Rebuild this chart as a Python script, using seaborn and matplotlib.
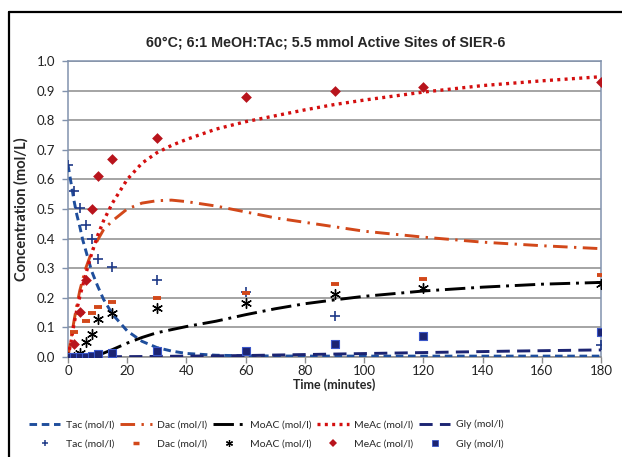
import numpy as np
import pandas as pd
import matplotlib
matplotlib.use("Agg")
import matplotlib.pyplot as plt
import seaborn as sns
from matplotlib.lines import Line2D

# measured concentrations (mol/l)
t_meas = [0, 2, 4, 6, 8, 10, 15, 30, 60, 90, 120, 180]
tac_meas = [0.65, 0.56, 0.505, 0.447, 0.40, 0.33, 0.305, 0.26, 0.22, 0.14, np.nan, 0.04]
dac_meas = [0.0, 0.085, 0.15, 0.123, 0.148, 0.168, 0.185, 0.20, 0.215, 0.246, 0.265, 0.277]
moac_meas = [0.0, 0.0, 0.015, 0.05, 0.078, 0.128, 0.147, 0.165, 0.184, 0.214, 0.232, 0.246]
meac_meas = [0.0, 0.045, 0.152, 0.26, 0.50, 0.61, 0.67, 0.74, 0.88, 0.90, 0.912, 0.93]
gly_meas = [0.0, 0.0, 0.0, 0.0, 0.002, 0.011, 0.014, 0.02, 0.021, 0.044, 0.07, 0.085]

# model curves
t_tac = [0, 1, 2, 3, 4, 5, 6, 8, 10, 12, 15, 20, 25, 30, 35, 40, 50, 60, 80, 100, 120, 140, 160, 180]
tac_fit = [0.65, 0.59, 0.53, 0.48, 0.44, 0.395, 0.36, 0.29, 0.24, 0.195, 0.145, 0.088, 0.053,
           0.032, 0.02, 0.012, 0.006, 0.004, 0.003, 0.003, 0.003, 0.003, 0.003, 0.003]

t_dac = [0, 1, 2, 3, 4, 6, 8, 10, 12, 15, 20, 25, 30, 35, 40, 50, 60, 70, 80, 90, 100, 110, 120, 140, 160, 180]
dac_fit = [0.0, 0.06, 0.12, 0.175, 0.225, 0.30, 0.355, 0.395, 0.43, 0.46, 0.50, 0.52, 0.528, 0.53,
           0.525, 0.51, 0.49, 0.47, 0.455, 0.44, 0.425, 0.415, 0.405, 0.388, 0.376, 0.366]

t_moac = [0, 5, 8, 10, 15, 20, 25, 30, 40, 50, 60, 70, 80, 90, 100, 120, 140, 160, 180]
moac_fit = [0.0, 0.0, 0.0, 0.005, 0.025, 0.047, 0.066, 0.082, 0.103, 0.121, 0.143, 0.163,
            0.18, 0.193, 0.205, 0.223, 0.236, 0.246, 0.252]

t_meac = [0, 1, 2, 3, 4, 6, 8, 10, 12, 15, 20, 25, 30, 35, 40, 50, 60, 70, 80, 90, 100, 120, 140, 160, 180]
meac_fit = [0.0, 0.05, 0.11, 0.16, 0.205, 0.28, 0.35, 0.41, 0.46, 0.52, 0.60, 0.655, 0.69, 0.715,
            0.735, 0.77, 0.795, 0.815, 0.835, 0.853, 0.868, 0.895, 0.917, 0.933, 0.947]

t_gly = [0, 30, 60, 90, 120, 150, 180]
gly_fit = [0.0, 0.002, 0.005, 0.01, 0.015, 0.02, 0.024]

c_tac_line = "#1f4e9c"
c_tac_mark = "#1f3a88"
c_dac = "#d2481a"
c_moac = "black"
c_meac_line = "#d40f0f"
c_meac_mark = "#b8141c"
c_gly = "#1c2472"

sns.set_style("white")
plt.rcParams["font.family"] = ["Lato", "DejaVu Sans"]

fig = plt.figure(figsize=(6.22, 4.57), dpi=100)
ax = fig.add_axes([0.1093, 0.2188, 0.857, 0.6477])

ls_tac = (0, (2.6, 1.6))
ls_dac = (0, (5, 2.2, 0.8, 2.2))
ls_moac = (0, (7, 2, 1, 2))
ls_meac = (0, (0.9, 1.3))
ls_gly = (0, (4.5, 2.5))

lw = 2.1
sns.lineplot(x=t_tac, y=tac_fit, ax=ax, color=c_tac_line, lw=lw, linestyle=ls_tac, zorder=3)
sns.lineplot(x=t_dac, y=dac_fit, ax=ax, color=c_dac, lw=lw, linestyle=ls_dac, zorder=3)
sns.lineplot(x=t_moac, y=moac_fit, ax=ax, color=c_moac, lw=lw, linestyle=ls_moac, zorder=3)
sns.lineplot(x=t_meac, y=meac_fit, ax=ax, color=c_meac_line, lw=2.4, linestyle=ls_meac, zorder=3)
sns.lineplot(x=t_gly, y=gly_fit, ax=ax, color=c_gly, lw=lw, linestyle=ls_gly, zorder=3)

sns.scatterplot(x=t_meas, y=tac_meas, ax=ax, marker="+", s=50, color=c_tac_mark, linewidth=1.2, zorder=4)
sns.scatterplot(x=t_meas, y=dac_meas, ax=ax, marker="_", s=30, color=c_dac, linewidth=2.8, zorder=4)
sns.scatterplot(x=t_meas, y=moac_meas, ax=ax, marker=(6, 2, 0), s=50, color=c_moac, linewidth=1.0, zorder=4)
sns.scatterplot(x=t_meas, y=meac_meas, ax=ax, marker="D", s=30, color=c_meac_mark, linewidth=0, zorder=4)
sns.scatterplot(x=t_meas, y=gly_meas, ax=ax, marker="s", s=36, color=c_gly, edgecolor="#3a56c8",
                linewidth=0.8, zorder=4)

ax.set_xlim(0, 180)
ax.set_ylim(0, 1.0)
ax.set_xticks(np.arange(0, 181, 20))
ax.set_yticks(np.arange(0, 1.01, 0.1))
ax.set_yticklabels([f"{v:.1f}" for v in np.arange(0, 1.01, 0.1)])
ax.yaxis.grid(True, color="#8c8c8c", lw=1.1)
ax.xaxis.grid(False)
ax.set_axisbelow(True)
for side in ["top", "right", "left"]:
    ax.spines[side].set_color("#8192ad")
    ax.spines[side].set_linewidth(1.1)
ax.spines["bottom"].set_color("#8c8c8c")
ax.spines["bottom"].set_linewidth(1.1)
ax.tick_params(axis="both", labelsize=9.5, colors="#222222", length=4, width=1, direction="out",
               bottom=True, left=True, pad=3)
ax.tick_params(axis="x", color="#8c8c8c", pad=2)
ax.tick_params(axis="y", color="#8192ad", pad=5)

ax.set_xlabel("Time (minutes)", fontsize=9, fontweight="bold", labelpad=1)
ax.set_ylabel("Concentration (mol/L)", fontsize=10.5, fontweight="bold", labelpad=6)

fig.text(0.523, 0.908, "60\u00b0C; 6:1 MeOH:TAc; 5.5 mmol Active Sites of SIER-6",
         ha="center", va="center", fontsize=10.3, fontweight="bold", family="Liberation Sans")

# outer frame (top and left only, as in the screenshot)
fig.add_artist(Line2D([9 / 622, 1], [1 - 12 / 457] * 2, transform=fig.transFigure, color="black", lw=1.6))
fig.add_artist(Line2D([9 / 622] * 2, [0, 1 - 12 / 457], transform=fig.transFigure, color="black", lw=1.6))

names = ["Tac", "Dac", "MoAC", "MeAc", "Gly"]
line_h = [
    Line2D([], [], color=c_tac_line, lw=lw, linestyle=ls_tac),
    Line2D([], [], color=c_dac, lw=lw, linestyle=ls_dac),
    Line2D([], [], color=c_moac, lw=lw, linestyle=ls_moac),
    Line2D([], [], color=c_meac_line, lw=2.4, linestyle=ls_meac),
    Line2D([], [], color=c_gly, lw=lw, linestyle=ls_gly),
]
mark_h = [
    Line2D([], [], ls="none", marker="+", ms=5, mew=1.1, color=c_tac_mark),
    Line2D([], [], ls="none", marker="_", ms=5, mew=2.5, color=c_dac),
    Line2D([], [], ls="none", marker=(6, 2, 0), ms=5, mew=0.9, color=c_moac),
    Line2D([], [], ls="none", marker="D", ms=4, mew=0, color=c_meac_mark),
    Line2D([], [], ls="none", marker="s", ms=5, mew=0.6, color=c_gly, mec="#3a56c8"),
]
handles, labels = [], []
for n, lh, mh in zip(names, line_h, mark_h):
    handles += [lh, mh]
    labels += [f"{n} (mol/l)", f"{n} (mol/l)"]

fig.legend(handles, labels, ncol=5, loc="center", bbox_to_anchor=(0.428, 0.05), frameon=False,
           fontsize=7.5, handlelength=3.0, handletextpad=0.5, columnspacing=0.6, labelspacing=0.95)

fig.savefig("out.png", dpi=100)
